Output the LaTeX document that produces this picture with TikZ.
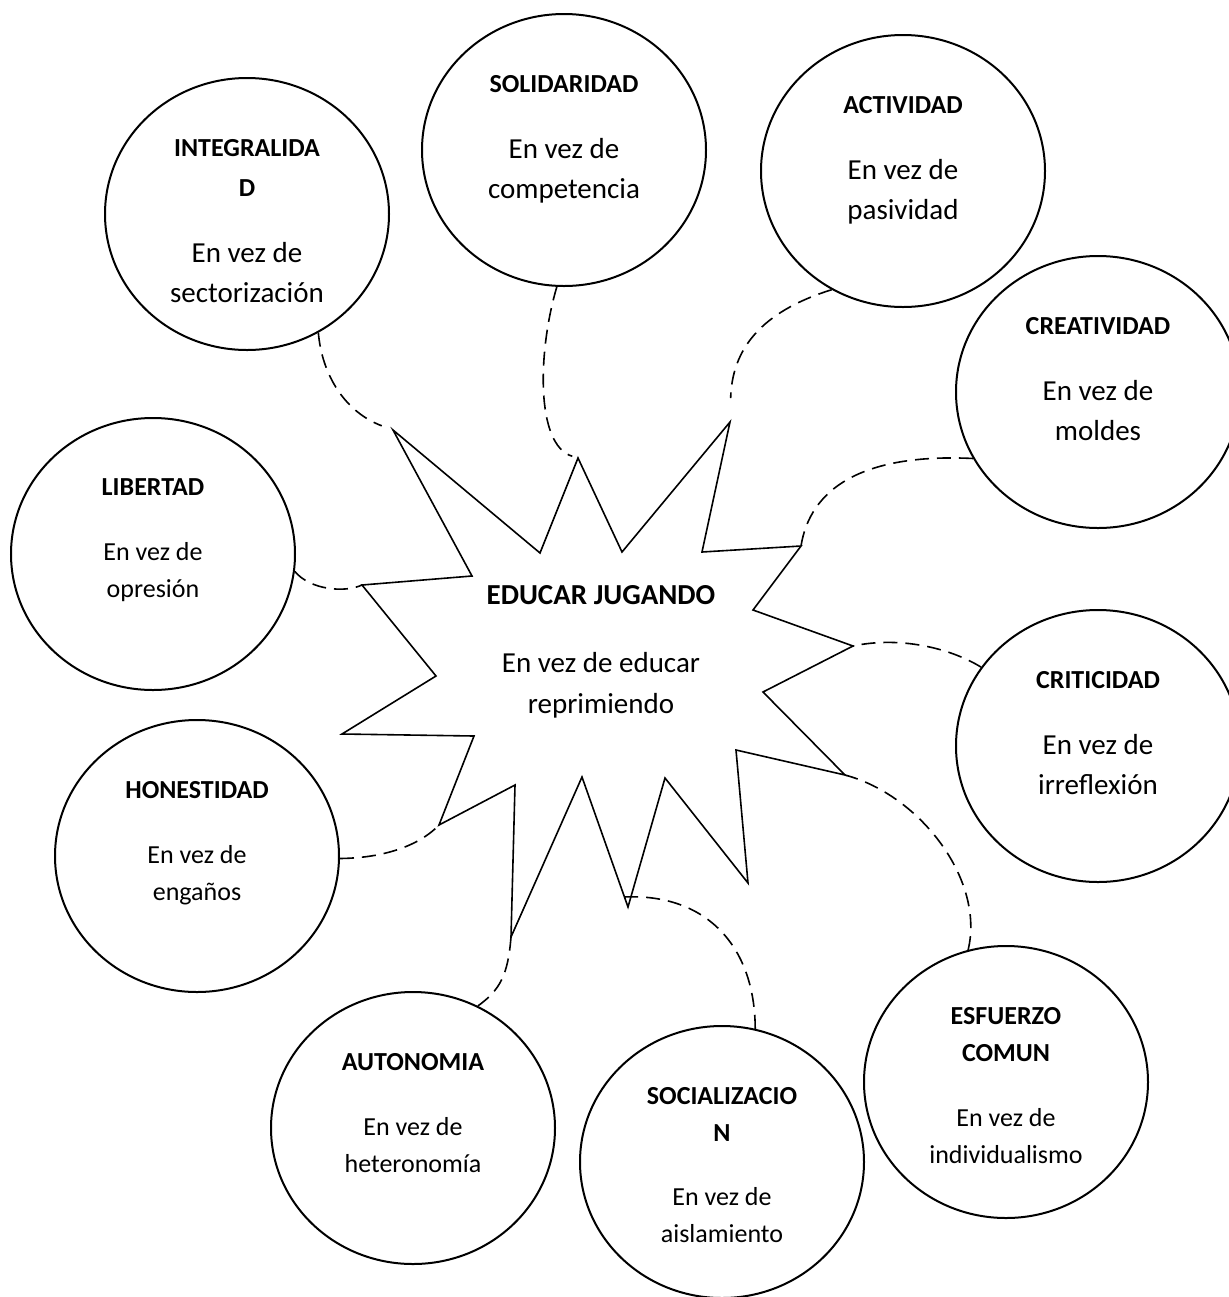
\documentclass[tikz,border=0pt]{standalone}
\usepackage{fontspec}
\setmainfont{Carlito}
\usetikzlibrary{shapes,positioning}

\newcommand\ttl[1]{{\fontsize{13}{18.5}\selectfont\bfseries #1}}

\begin{document}
\begin{tikzpicture}[x=0.5pt,y=-0.5pt,
	bubble/.style={draw,ellipse,line width=1pt,minimum width=142pt,minimum height=136pt,inner sep=0pt},
	txt/.style={anchor=north,align=center,inner sep=0pt,font=\fontsize{13}{18.5}\selectfont},
	bigtxt/.style={txt,font=\fontsize{14.5}{20}\selectfont},
	link/.style={line width=0.8pt,dash pattern=on 7pt off 4pt}]
	\useasboundingbox (0,0) rectangle (1228,1297);

	% star
	\coordinate (t1) at (393,430);
	\coordinate (t2) at (578,458);
	\coordinate (t3) at (730,422);
	\coordinate (t4) at (801,546);
	\coordinate (t5) at (853,646);
	\coordinate (t6) at (845,775);
	\coordinate (t7) at (748,883);
	\coordinate (t8) at (628,907);
	\coordinate (t9) at (511,937);
	\coordinate (t10) at (439,825);
	\coordinate (t11) at (342,734);
	\coordinate (t12) at (362,585);
	\draw[line width=0.8pt] (t1) -- (540,553) -- (t2) -- (622,552) -- (t3) -- (702,552) -- (t4) -- (753,610)
	-- (t5) -- (763,692) -- (t6) -- (736,750) -- (t7) -- (665,778) -- (t8) -- (582,777) -- (t9)
	-- (515,785) -- (t10) -- (474,736) -- (t11) -- (436,676) -- (t12) -- (472,576) -- cycle;
	\coordinate (t8a) at (624,897); % on the left edge of t8
	\node[txt,font=\fontsize{14.5}{20.5}\selectfont] (edu) at (601,585) {\textbf{EDUCAR JUGANDO}\\[13.5pt] En vez de educar\\ reprimiendo};

	% bubbles
	\node[bubble] (integ) at (247,214) {};
	\node[bubble] (solid) at (564,150) {};
	\node[bubble] (activ) at (903,171) {};
	\node[bubble] (creat) at (1098,392) {};
	\node[bubble] (liber) at (153,554) {};
	\node[bubble] (critic) at (1098,746) {};
	\node[bubble] (hones) at (197,856) {};
	\node[bubble] (auton) at (413,1128) {};
	\node[bubble] (social) at (722,1162) {};
	\node[bubble] (esfuer) at (1006,1082) {};

	\node[bigtxt] (integ-t) at ([yshift=37.7pt]integ.center) {\ttl{INTEGRALIDA}\\\ttl{D}\\[13pt] En vez de\\ sectorización};
	\node[bigtxt] (solid-t) at ([yshift=37.7pt]solid.center) {\ttl{SOLIDARIDAD}\\[13pt] En vez de\\ competencia};
	\node[bigtxt] (activ-t) at ([yshift=37.7pt]activ.center) {\ttl{ACTIVIDAD}\\[13pt] En vez de\\ pasividad};
	\node[bigtxt] (creat-t) at ([yshift=37.7pt]creat.center) {\ttl{CREATIVIDAD}\\[13pt] En vez de\\ moldes};
	\node[txt] (liber-t) at ([yshift=37.7pt]liber.center) {\ttl{LIBERTAD}\\[14pt] En vez de\\ opresión};
	\node[bigtxt] (critic-t) at ([yshift=37.7pt]critic.center) {\ttl{CRITICIDAD}\\[13pt] En vez de\\ irreflexión};
	\node[txt] (hones-t) at ([yshift=37.7pt]hones.center) {\ttl{HONESTIDAD}\\[14pt] En vez de\\ engaños};
	\node[txt] (auton-t) at ([yshift=37.7pt]auton.center) {\ttl{AUTONOMIA}\\[14pt] En vez de\\ heteronomía};
	\node[txt] (social-t) at ([yshift=37.7pt]social.center) {\ttl{SOCIALIZACIO}\\\ttl{N}\\[13.5pt] En vez de\\ aislamiento};
	\node[txt] (esfuer-t) at ([yshift=37.7pt]esfuer.center) {\ttl{ESFUERZO}\\\ttl{COMUN}\\[14pt] En vez de\\ individualismo};

	% dashed links
	\draw[link,shorten >=6pt] (integ.-59) .. controls (322,375) and (345,412) .. (t1);
	\draw[link,shorten >=3pt] (solid.-93) .. controls (538,350) and (535,445) .. (t2);
	\draw[link,shorten >=12pt] (activ.-121) .. controls (760,312) and (732,350) .. (t3);
	\draw[link] (creat.-152) .. controls (860,453) and (810,490) .. (t4);
	\draw[link] (liber.-7) .. controls (310,590) and (345,593) .. (t12);
	\draw[link] (critic.146) .. controls (950,648) and (900,636) .. (t5);
	\draw[link] (esfuer.106) .. controls (985,880) and (920,795) .. (t6);
	\draw[link] (social.76) .. controls (755,945) and (705,893) .. (t8a);
	\draw[link] (auton.62) .. controls (500,990) and (508,975) .. (t9);
	\draw[link] (hones.-1) .. controls (385,858) and (420,845) .. (t10);
\end{tikzpicture}
\end{document}
